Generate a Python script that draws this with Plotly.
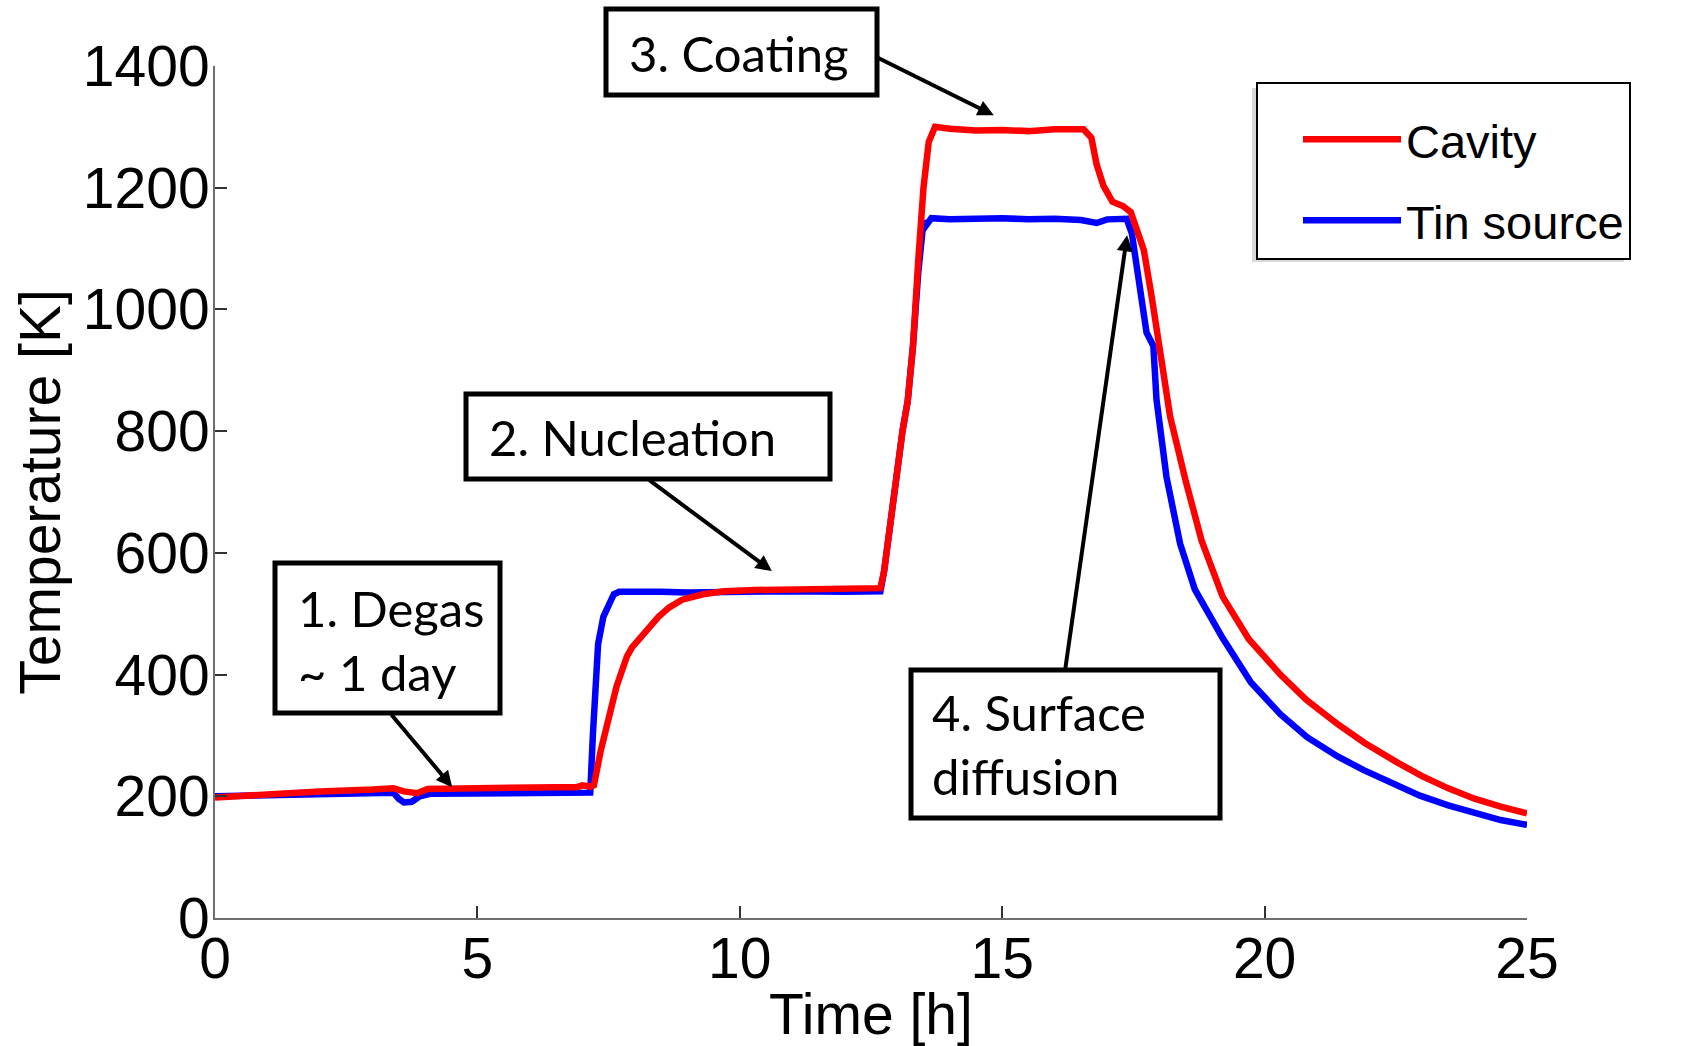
import plotly.graph_objects as go

# ---------------- data ----------------
cavity_t = [0, 1, 2, 3, 3.4, 3.6, 3.85, 4.05, 4.5, 5.5, 6.5, 6.9, 7.0, 7.15, 7.22,
            7.35, 7.5, 7.65, 7.85, 7.95, 8.1, 8.25, 8.45, 8.65, 8.9, 9.3, 9.7, 10.3,
            11, 12, 12.68, 12.75, 12.85, 12.95, 13.1, 13.2, 13.3, 13.4, 13.5, 13.6,
            13.72, 14, 14.5, 15, 15.5, 16, 16.3, 16.55, 16.7, 16.8, 16.93, 17.1, 17.3,
            17.45, 17.55, 17.7, 17.85, 18.0, 18.2, 18.5, 18.8, 19.2, 19.7, 20.3, 20.8,
            21.4, 21.9, 22.5, 23.0, 23.5, 24.0, 24.5, 25.0]
cavity_T = [198, 204, 208, 211, 213, 208, 205, 212, 213, 214, 215, 215, 218, 216, 218,
            275, 330, 380, 430, 445, 460, 476, 495, 510, 523, 532, 537, 539,
            540, 541, 542, 570, 640, 700, 800, 850, 940, 1080, 1200, 1275,
            1300, 1297, 1294, 1295, 1293, 1296, 1297, 1296, 1282, 1238, 1203, 1177, 1170,
            1160, 1135, 1097, 1020, 930, 824, 717, 620, 528, 458, 400, 358,
            318, 288, 257, 233, 213, 196, 183, 172]

tin_t = [0, 1, 2, 3, 3.4, 3.5, 3.6, 3.75, 3.9, 4.1, 5, 6, 7, 7.15, 7.2, 7.25, 7.3,
         7.4, 7.5, 7.6, 7.7, 8, 8.5, 9, 9.5, 10, 11, 12, 12.68, 12.75, 12.85, 12.95,
         13.1, 13.2, 13.3, 13.4, 13.5, 13.55, 13.65, 14, 14.5, 15, 15.5, 16, 16.5,
         16.8, 17.0, 17.37, 17.47, 17.56, 17.75, 17.88, 17.94, 18.13, 18.39, 18.67,
         19.2, 19.74, 20.3, 20.81, 21.4, 21.89, 22.5, 22.96, 23.5, 24.04, 24.5, 25]
tin_T = [200, 202, 204, 205, 206, 196, 190, 191, 200, 204, 204, 204, 204, 206, 300, 400, 450,
         495, 515, 532, 536, 535, 536, 535, 536, 537, 537, 536, 537, 570, 640, 700,
         800, 850, 940, 1060, 1145, 1138, 1150, 1148, 1149, 1150, 1148, 1149, 1147,
         1142, 1148, 1149, 1125, 1071, 962, 940, 852, 725, 615, 540,
         460, 387, 335, 297, 265, 243, 219, 201, 185, 171, 161, 153]

x_ticks = [0, 5, 10, 15, 20, 25]
y_ticks = [0, 200, 400, 600, 800, 1000, 1200, 1400]

stage_labels = ["1. Degas<br>~ 1 day", "2. Nucleation", "3. Coating",
                "4. Surface<br>diffusion"]
# arrow targets in data coordinates (time [h], temperature [K])
stage_target_t = [4.52, 10.61, 14.84, 17.38]
stage_target_T = [215, 570, 1319, 1122]

# ---------------- layout geometry (pixels) ----------------
W, H = 1684, 1046
L, R, T, B = 215, 1527, 66, 918


def px(xp):
    return (xp - L) / (R - L)


def py(yp):
    return (B - yp) / (B - T)


box_px = [(275, 500, 563, 713), (466, 830, 394, 479), (606, 877, 9, 95),
          (911, 1220, 670, 818)]
text_px = [(296, 640), (487, 437), (627, 53), (930, 744)]
arrow_off = [(-62, -74), (-124, -92), (-117, -58), (-62, 435)]

fig = go.Figure()
fig.add_trace(go.Scatter(x=tin_t, y=tin_T, mode="lines", name="Tin source",
                         line=dict(color="#0000ff", width=6.5),
                         legendgroup="b", legendrank=2))
fig.add_trace(go.Scatter(x=cavity_t, y=cavity_T, mode="lines", name="Cavity",
                         line=dict(color="#ff0000", width=6.5),
                         legendgroup="a", legendrank=1))

shapes = []
annotations = []
# soft shadow behind the legend box (offset down-left)
shapes.append(dict(type="rect", xref="paper", yref="paper",
                   x0=px(1252), x1=px(1624), y0=py(262), y1=py(88),
                   line=dict(width=0), fillcolor="rgba(0,0,0,0.15)", layer="above"))
for (x0, x1, y0, y1) in box_px:
    shapes.append(dict(type="rect", xref="paper", yref="paper",
                       x0=px(x0), x1=px(x1), y0=py(y1), y1=py(y0),
                       line=dict(color="black", width=5), fillcolor="white",
                       layer="above"))
for lab, (tx, ty) in zip(stage_labels, text_px):
    annotations.append(dict(text=lab, xref="paper", yref="paper", x=px(tx), y=py(ty),
                            xanchor="left", yanchor="middle", align="left",
                            showarrow=False,
                            font=dict(family="Lato", size=49, color="black")))
for tt, TT, (ax, ay) in zip(stage_target_t, stage_target_T, arrow_off):
    annotations.append(dict(text="", x=tt, y=TT, xref="x", yref="y",
                            ax=ax, ay=ay, showarrow=True, arrowhead=2,
                            arrowsize=0.8, arrowwidth=4, arrowcolor="black",
                            standoff=0, startstandoff=0))

axis_font = dict(family="Liberation Sans, Arial", size=57, color="black")
fig.update_layout(
    width=W, height=H,
    margin=dict(l=L, r=W - R, t=T, b=H - B, autoexpand=False),
    paper_bgcolor="white", plot_bgcolor="white",
    showlegend=True,
    legend=dict(xref="container", yref="container", x=1256 / W, y=1 - 82 / H,
                xanchor="left", yanchor="top", traceorder="grouped",
                tracegroupgap=17, bgcolor="white", bordercolor="black",
                borderwidth=2, itemwidth=98, indentation=40,
                title=dict(text=" ", font=dict(size=14)),
                font=dict(family="Liberation Sans, Arial", size=47, color="black")),
    shapes=shapes, annotations=annotations,
    xaxis=dict(range=[0, 25], tickvals=x_ticks, ticks="inside", ticklen=12,
               tickwidth=1.5, tickcolor="#333333", showline=True, linecolor="#6e6e6e",
               linewidth=2, showgrid=False, zeroline=False, tickfont=axis_font,
               ticklabelstandoff=-10,
               title=dict(text="Time [h]", font=axis_font, standoff=10),
               automargin=False),
    yaxis=dict(range=[0, 1400], tickvals=y_ticks, ticks="inside", ticklen=12,
               tickwidth=1.5, tickcolor="#333333", showline=True, linecolor="#6e6e6e",
               linewidth=2, showgrid=False, zeroline=False, tickfont=axis_font,
               ticklabelstandoff=-8,
               title=dict(text="Temperature [K]", font=axis_font, standoff=4),
               automargin=False),
)

fig.write_html("out.html")
